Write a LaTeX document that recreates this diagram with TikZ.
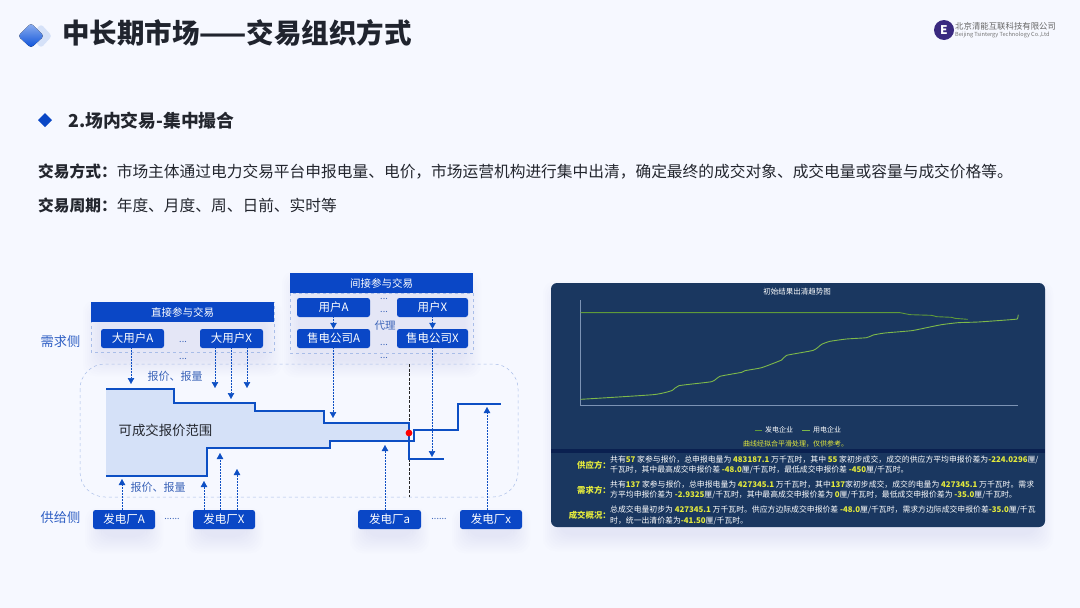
\documentclass[tikz,border=0pt]{standalone}
\usepackage{fontspec}
\setmainfont{Noto Sans CJK SC}
\usetikzlibrary{arrows.meta,calc}
\definecolor{bgc}{HTML}{F6F8FF}
\definecolor{boxc}{HTML}{0A47C6}
\definecolor{linec}{HTML}{0D4FC4}
\definecolor{labc}{HTML}{2F5FC4}
\definecolor{smlab}{HTML}{3A63B8}
\definecolor{dashc}{HTML}{A9BDE8}
\definecolor{fillc}{HTML}{D5E1F8}
\definecolor{panelc}{HTML}{1A3760}
\definecolor{stripec}{HTML}{0A2050}
\definecolor{axisc}{HTML}{7C93B5}
\definecolor{greenA}{HTML}{5F9A3A}
\definecolor{greenB}{HTML}{7DB84A}
\definecolor{yel}{HTML}{E4EA3C}
\definecolor{titlec}{HTML}{20242E}
\definecolor{textc}{HTML}{23262E}
\definecolor{shc}{HTML}{8D9BD0}
\definecolor{logoc}{HTML}{3A2A80}
\definecolor{dmA}{HTML}{8FB0F0}
\definecolor{dmB}{HTML}{0A50D8}
\newcommand{\fs}[1]{\fontsize{#1}{#1}\selectfont}
\newcommand{\hl}[1]{{\bfseries\color{yel}#1}}
\newcommand{\softshadow}[4]{%
  \foreach \e in {16,14,12,10,8,6,4,2,0}{%
    \fill[shc,opacity=.016,rounded corners=12pt] ($(#1,#2)+(8-\e,14-\e)$) rectangle ($(#3,#4)+(\e-8,8+\e)$);}}
\tikzset{
  x=1pt,y=-1pt,
  pbox/.style={draw=none,fill=boxc,rounded corners=2.5pt,text=white,font=\fs{11.5},inner sep=0pt,minimum height=19pt},
  hbox/.style={draw=none,fill=boxc,text=white,font=\fs{10.5},inner sep=0pt,minimum height=20pt},
  dbox/.style={draw=dashc,dashed,line width=.5pt},
  flow/.style={draw=linec,line width=.5pt,densely dotted,-{Triangle[length=6pt,width=6.5pt]}},
  step line/.style={draw=linec,line width=1.4pt},
  side/.style={text=labc,font=\fs{13.2},inner sep=0pt},
  small/.style={text=smlab,font=\fs{11},inner sep=0pt},
  dots/.style={text=smlab,font=\fs{9},inner sep=0pt},
  plain/.style={inner sep=0pt,anchor=west},
  pl/.style={plain,text=white,font=\fs{7.85}},
  plab/.style={inner sep=0pt,anchor=east,text=yel,font=\fs{8.4}\bfseries},
}
\begin{document}
\begin{tikzpicture}
\useasboundingbox (0,0) rectangle (1080,608);
\fill[bgc] (0,0) rectangle (1080,608);

% header
\fill[fillc,rounded corners=3pt] (41,24) -- (52,36) -- (41,48) -- (30,36) -- cycle;
\fill[top color=dmA,bottom color=dmB,rounded corners=3pt] (31,23) -- (44,36) -- (31,48) -- (18,36) -- cycle;
\node[plain,text=titlec,font=\fs{27.5}\bfseries] (title) at (62,33) {中长期市场——交易组织方式};

% logo
\node[circle,fill=logoc,minimum size=20pt,inner sep=0pt,text=white,font=\fs{12}\bfseries] (logo) at (944,30) {E};
\node[plain,text=black!60,font=\fs{8.4}] (co) at (955,26) {北京清能互联科技有限公司};
\node[plain,text=black!55,font=\fs{5.6}] (coen) at (955,34.5) {Beijing Tsintergy Technology Co.,Ltd};

% heading
\fill[boxc] (45,113) -- (52,120) -- (45,127) -- (38,120) -- cycle;
\node[plain,text=textc,font=\fs{17.8}\bfseries] (h2) at (68,121) {2.场内交易-集中撮合};
\node[plain,text=textc,font=\fs{15.72}] (l1) at (38,171) {{\bfseries 交易方式：}市场主体通过电力交易平台申报电量、电价，市场运营机构进行集中出清，确定最终的成交对象、成交电量或容量与成交价格等。};
\node[plain,text=textc,font=\fs{15.72}] (l2) at (38,205) {{\bfseries 交易周期：}年度、月度、周、日前、实时等};

% soft shadows
\softshadow{91}{302}{274}{352}
\softshadow{290}{273}{473}{353}
\softshadow{93}{510}{155}{529}
\softshadow{193}{510}{255}{529}
\softshadow{358}{510}{421}{529}
\softshadow{460}{510}{522}{529}
\softshadow{551}{283}{1045}{527}

% market region
\draw[dbox,rounded corners=25pt] (80,364) rectangle (518,497);

% price band
\fill[fillc] (106,389) -- (174,389) -- (174,403) -- (255,403) -- (255,411) -- (324,411) -- (324,423) -- (409,423)
  -- (409,441) -- (330,441) -- (330,448) -- (207,448) -- (207,476) -- (106,476) -- cycle;
\draw[black!85,line width=.9pt,dash pattern=on 3pt off 1.5pt] (409,364) -- (409,497);
\draw[step line] (106,389) -- (174,389) -- (174,403) -- (255,403) -- (255,411) -- (324,411) -- (324,423) -- (409,423) -- (409,459) -- (444,459);
\draw[step line] (106,476) -- (207,476) -- (207,448) -- (330,448) -- (330,441) -- (414,441) -- (414,430) -- (458,430) -- (458,404) -- (501,404);
\fill[red] (409,433) circle (3.4);
\node[inner sep=0pt,text=textc,font=\fs{13.4}] (range) at (165.5,430) {可成交报价范围};

% direct group
\draw[dbox] (91,302) rectangle (274,352);
\node[hbox,minimum width=183pt] (dh) at (182.5,312) {直接参与交易};
\node[pbox,minimum width=63pt] (ba) at (132.5,338.5) {大用户A};
\node[pbox,minimum width=63pt] (bx) at (231.5,338.5) {大用户X};
\node[dots] (d1) at (183,342) {...};
\node[dots] (d2) at (183,359) {...};
\node[side] (demand) at (60.5,341) {需求侧};

% indirect group
\draw[dbox] (290,293) rectangle (473,353);
\node[hbox,minimum width=183pt] (ih) at (381.5,283) {间接参与交易};
\node[pbox,minimum width=73pt] (ua) at (333.5,307.5) {用户A};
\node[pbox,minimum width=71pt] (ux) at (432.5,307.5) {用户X};
\node[pbox,minimum width=73pt] (sa) at (333.5,338.5) {售电公司A};
\node[pbox,minimum width=71pt] (sx) at (432.5,338.5) {售电公司X};
\node[small,font=\fs{10.5}] (agent) at (385,326) {代理};
\node[dots] (d3) at (384,299) {...};
\node[dots] (d4) at (384,312) {...};
\node[dots] (d5) at (384,345) {...};
\node[dots] (d6) at (384,358) {...};
\draw[flow] (ua) -- (sa);
\draw[flow] (ux) -- (sx);

% suppliers
\node[pbox,minimum width=62pt] (ga) at (124,519.5) {发电厂A};
\node[pbox,minimum width=62pt] (gx) at (224,519.5) {发电厂X};
\node[pbox,minimum width=63pt] (gla) at (389.5,519.5) {发电厂a};
\node[pbox,minimum width=62pt] (glx) at (491,519.5) {发电厂x};
\node[dots] (d7) at (172,519) {......};
\node[dots] (d8) at (439,519) {......};
\node[side] (supply) at (60.5,518) {供给侧};
\node[small] (q1) at (175,376) {报价、报量};
\node[small] (q2) at (158,487) {报价、报量};

% flows
\coordinate (t1) at (131,384);
\coordinate (t2) at (215,388);
\coordinate (t3) at (231,399);
\coordinate (t4) at (247,388);
\coordinate (t5) at (333,418);
\coordinate (t6) at (432,457);
\coordinate (s1) at (122,479);
\coordinate (s2) at (204,481);
\coordinate (s3) at (220,453);
\coordinate (s4) at (237,469);
\coordinate (s5) at (385,445);
\coordinate (s6) at (487,407);
\draw[flow] (t1 |- ba.south) -- (t1);
\draw[flow] (t2 |- bx.south) -- (t2);
\draw[flow] (t3 |- bx.south) -- (t3);
\draw[flow] (t4 |- bx.south) -- (t4);
\draw[flow] (t5 |- sa.south) -- (t5);
\draw[flow] (t6 |- sx.south) -- (t6);
\draw[flow] (s1 |- ga.north) -- (s1);
\draw[flow] (s2 |- gx.north) -- (s2);
\draw[flow] (s3 |- gx.north) -- (s3);
\draw[flow] (s4 |- gx.north) -- (s4);
\draw[flow] (s5 |- gla.north) -- (s5);
\draw[flow] (s6 |- glx.north) -- (s6);

% chart panel
\fill[panelc,rounded corners=6pt] (551,283) rectangle (1045,527);
\fill[stripec] (551,449) rectangle (1045,453);
\node[inner sep=0pt,text=white,font=\fs{7.5}] (ct) at (797,291.5) {初始结果出清趋势图};
\draw[axisc,line width=.6pt] (580,300) -- (580,405.7) -- (1018,405.7);
\begin{scope}[shift={(545,280)},x=.3333pt,y=-.3333pt]
\draw[greenA,line width=.9pt,line join=round] (107,98) -- (1065,98) -- (1095,104) -- (1160,106) -- (1175,110) -- (1220,112) -- (1230,115) -- (1268,118);
\draw[greenB,line width=.9pt,line join=round] plot[smooth,tension=.3] coordinates {(107,358) (325,344) (380,332) (402,317) (500,305) (525,289) (590,277) (600,272) (650,263) (710,240) (725,226) (805,211) (830,193) (855,184) (905,177) (965,173) (985,165) (1020,159) (1100,152) (1150,142) (1190,134) (1240,128) (1300,126) (1410,118) (1418,115) (1420,104)};
\draw[greenA,line width=.9pt] (630,451) -- (652,451);
\draw[greenB,line width=.9pt] (772,451) -- (795,451);
\end{scope}
\node[plain,text=white,font=\fs{7}] (lg1) at (765,430) {发电企业};
\node[plain,text=white,font=\fs{7}] (lg2) at (813,430) {用电企业};
\node[inner sep=0pt,text=yel,font=\fs{7}] (note) at (795.5,444) {曲线经拟合平滑处理，仅供参考。};

\node[plab] (p1) at (611,465) {供应方：};
\node[plab] (p2) at (611,490) {需求方：};
\node[plab] (p3) at (611,515.5) {成交概况：};
\node[pl] (a1) at (610,460) {共有\hl{57} 家参与报价，总申报电量为 \hl{483187.1} 万千瓦时，其中 \hl{55} 家初步成交，成交的供应方平均申报价差为\hl{-224.0296}厘/};
\node[pl] (a2) at (610,470) {千瓦时，其中最高成交申报价差 \hl{-48.0}厘/千瓦时，最低成交申报价差 \hl{-450}厘/千瓦时。};
\node[pl] (b1) at (610,485) {共有\hl{137} 家参与报价，总申报电量为 \hl{427345.1} 万千瓦时，其中\hl{137}家初步成交，成交的电量为 \hl{427345.1} 万千瓦时。需求};
\node[pl] (b2) at (610,495) {方平均申报价差为 \hl{-2.9325}厘/千瓦时，其中最高成交申报价差为 \hl{0}厘/千瓦时，最低成交申报价差为 \hl{-35.0}厘/千瓦时。};
\node[pl] (c1) at (610,510) {总成交电量初步为 \hl{427345.1} 万千瓦时。供应方边际成交申报价差 \hl{-48.0}厘/千瓦时，需求方边际成交申报价差\hl{-35.0}厘/千瓦};
\node[pl] (c2) at (610,521) {时，统一出清价差为\hl{-41.50}厘/千瓦时。};
\end{tikzpicture}
\end{document}
